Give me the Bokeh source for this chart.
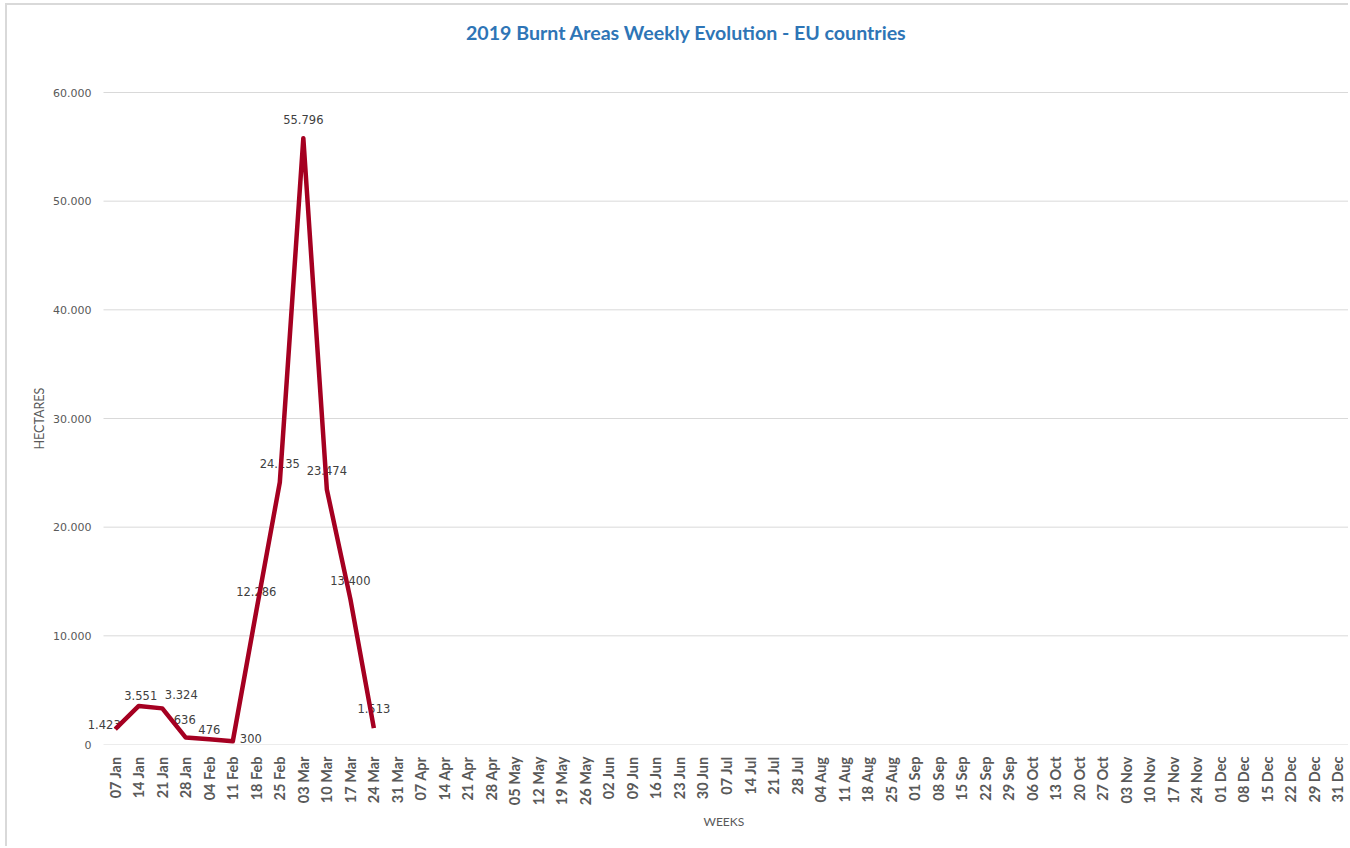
import math
from bokeh.plotting import figure
from bokeh.models import Range1d, FixedTicker, CustomJSTickFormatter, ColumnDataSource, Title
from bokeh.core.properties import value
from bokeh.embed import file_html
from bokeh.resources import INLINE

# ---- data ----
weeks = ["07 Jan", "14 Jan", "21 Jan", "28 Jan", "04 Feb", "11 Feb", "18 Feb", "25 Feb",
         "03 Mar", "10 Mar", "17 Mar", "24 Mar", "31 Mar", "07 Apr", "14 Apr", "21 Apr",
         "28 Apr", "05 May", "12 May", "19 May", "26 May", "02 Jun", "09 Jun", "16 Jun",
         "23 Jun", "30 Jun", "07 Jul", "14 Jul", "21 Jul", "28 Jul", "04 Aug", "11 Aug",
         "18 Aug", "25 Aug", "01 Sep", "08 Sep", "15 Sep", "22 Sep", "29 Sep", "06 Oct",
         "13 Oct", "20 Oct", "27 Oct", "03 Nov", "10 Nov", "17 Nov", "24 Nov", "01 Dec",
         "08 Dec", "15 Dec", "22 Dec", "29 Dec", "31 Dec"]
burnt_ha = [1423, 3551, 3324, 636, 476, 300, 12286, 24135, 55796, 23474, 13400, 1513]
y_ticks = [0, 10000, 20000, 30000, 40000, 50000, 60000]
title_text = "2019 Burnt Areas Weekly Evolution - EU countries"
y_title = "HECTARES"
x_title = "WEEKS"

# label placement tweaks (screen pixels, positive = up)
label_dx = [-11, 2, 19, -1, 0, 18, 0, 0, 0, 0, 0, 0]
label_dy = [5, 10, 14, 18, 10, 3, 19, 19, 19, 19, 18, 20]

# ---- layout (page pixels) ----
OFF_X, OFF_Y = 7, 5                 # css margin + border
W, H = 1350 - OFF_X, 848 - OFF_Y
AREA_L, AREA_R, AREA_T, AREA_B = 103, 1349, 92, 744   # plot area of the chart
FRAME_L, FRAME_T = 85, 10                               # drawing frame (wider for labels/title)
y_max = y_ticks[-1]
n = len(weeks)
px_per_cat = (AREA_R - AREA_L) / n
px_per_y = (AREA_B - AREA_T) / y_max

x_start = -(AREA_L - FRAME_L) / px_per_cat
y_end = (AREA_B - FRAME_T) / px_per_y

p = figure(width=W, height=H, output_backend="svg", toolbar_location=None,
           x_range=Range1d(x_start, n), y_range=Range1d(0, y_end),
           min_border_left=FRAME_L - OFF_X, min_border_right=W - (AREA_R - OFF_X),
           min_border_top=FRAME_T - OFF_Y, min_border_bottom=H - (AREA_B - OFF_Y))
p.styles = {"border-top": "2px solid #D9D9D9", "border-left": "2px solid #D9D9D9",
            "margin-left": "5px", "margin-top": "3px"}
p.outline_line_color = None
p.background_fill_color = "white"
p.border_fill_color = "white"
p.grid.grid_line_color = None

cat_x = [i + 0.5 for i in range(n)]

# horizontal gridlines across the category area only
p.segment(x0=[0] * len(y_ticks), x1=[n] * len(y_ticks), y0=y_ticks, y1=y_ticks,
          line_color="#D9D9D9", line_width=1)

p.yaxis.ticker = FixedTicker(ticks=y_ticks)
p.yaxis.formatter = CustomJSTickFormatter(code="""
return Math.round(tick).toString().replace(/\\B(?=(\\d{3})+(?!\\d))/g, '.');
""")
p.yaxis.axis_line_color = None
p.yaxis.major_tick_line_color = None
p.yaxis.major_tick_out = 0
p.yaxis.major_tick_in = 0
p.yaxis.minor_tick_line_color = None
p.yaxis.major_label_text_font = "DejaVu Sans"
p.yaxis.major_label_text_font_size = "11px"
p.yaxis.major_label_text_color = "#595959"
p.yaxis.major_label_standoff = FRAME_L - 91

p.xaxis.ticker = FixedTicker(ticks=cat_x)
p.xaxis.formatter = CustomJSTickFormatter(args=dict(labels=weeks),
                                          code="return labels[Math.floor(tick)];")
p.xaxis.axis_line_color = None
p.xaxis.major_tick_line_color = None
p.xaxis.major_tick_out = 0
p.xaxis.major_tick_in = 0
p.xaxis.minor_tick_line_color = None
p.xaxis.major_label_orientation = math.pi / 2
p.xaxis.major_label_text_font = "Lato"
p.xaxis.major_label_text_font_style = "bold"
p.xaxis.major_label_text_font_size = "14.5px"
p.xaxis.major_label_text_color = "#595959"
p.xaxis.major_label_standoff = 12

# axis titles as side titles, so they can sit where the original puts them
ytitle = Title(text=y_title, align="left", offset=AREA_B - 449, standoff=8,
               text_font="Lato", text_font_style="normal", text_font_size="12.5px",
               text_color="#595959")
p.add_layout(ytitle, "left")
xtitle = Title(text=x_title, align="left", offset=703 - FRAME_L, standoff=6,
               text_font="Lato", text_font_style="normal", text_font_size="12px",
               text_color="#595959")
p.add_layout(xtitle, "below")

src = ColumnDataSource(dict(
    x=cat_x[:len(burnt_ha)], y=burnt_ha,
    txt=[f"{v:,}".replace(",", ".") for v in burnt_ha],
    dx=label_dx, dy=[-d for d in label_dy]))

p.text(x="x", y="y", text="txt", x_offset="dx", y_offset="dy", source=src,
       text_align="center", text_baseline="middle", text_font=value("DejaVu Sans"),
       text_font_size="11.5px", text_color="#404040")
p.line(x="x", y="y", source=src, line_color="#A50021", line_width=4.5, line_join="round")

# chart title, placed above the plot area
title_cx = (686 - AREA_L) / px_per_cat
title_cy = (AREA_B - 32) / px_per_y
p.text(x=[title_cx], y=[title_cy], text=[title_text], text_align="center",
       text_baseline="middle", text_font=value("Lato"), text_font_style="bold",
       text_font_size="19.6px", text_color="#2E75B6")

open("out.html", "w").write(file_html(p, INLINE))
